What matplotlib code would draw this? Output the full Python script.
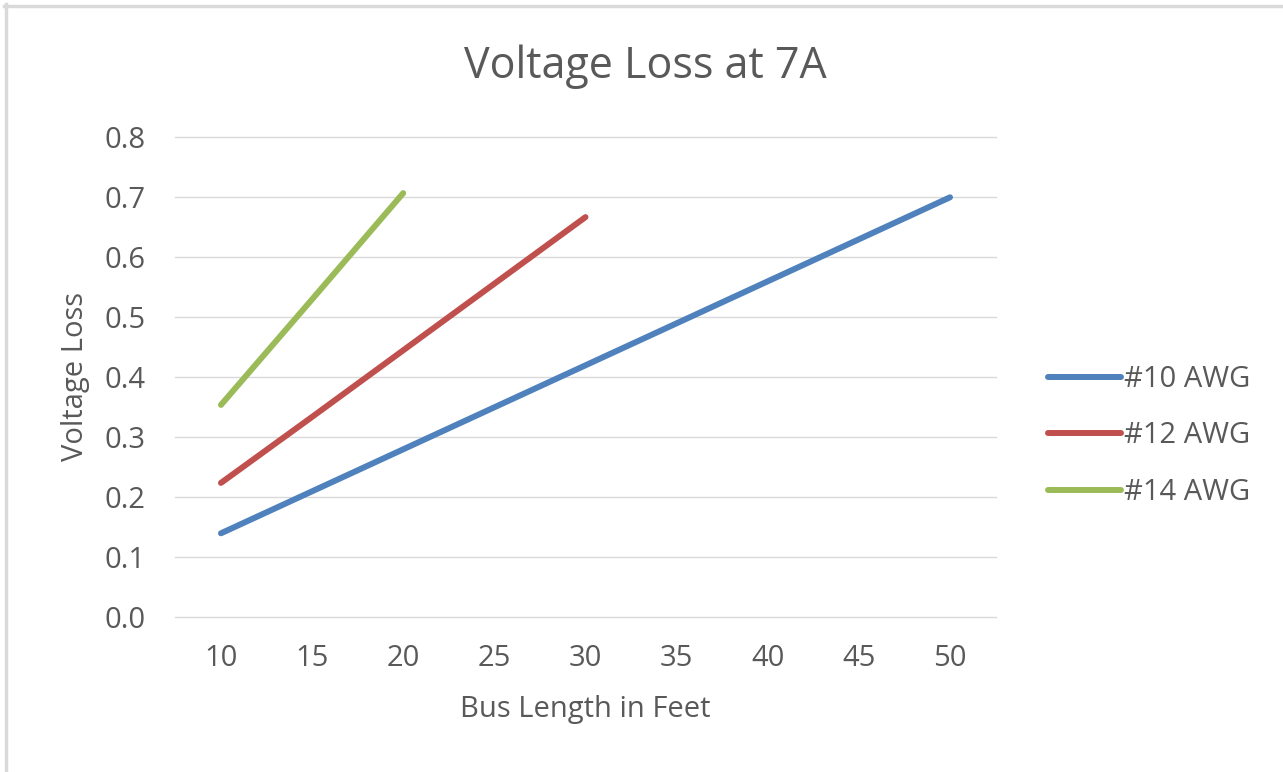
import matplotlib
matplotlib.use("Agg")
import matplotlib.pyplot as plt
from matplotlib.lines import Line2D

# ---- data ----
bus_length = [10, 15, 20, 25, 30, 35, 40, 45, 50]
awg10 = [0.14, 0.21, 0.28, 0.35, 0.42, 0.49, 0.56, 0.63, 0.70]
awg12_len = [10, 15, 20, 25, 30]
awg12 = [0.224, 0.334, 0.445, 0.556, 0.667]
awg14_len = [10, 15, 20]
awg14 = [0.354, 0.530, 0.707]
series_names = ["#10 AWG", "#12 AWG", "#14 AWG"]
y_ticks = [0.0, 0.1, 0.2, 0.3, 0.4, 0.5, 0.6, 0.7, 0.8]
title = "Voltage Loss at 7A"
x_title = "Bus Length in Feet"
y_title = "Voltage Loss"

plt.rcParams['font.family'] = ['Open Sans', 'DejaVu Sans']
TXT = '#595959'
GRID = '#D9D9D9'
colors = ['#4F81BD', '#C0504D', '#9BBB59']
W, H = 1283, 772
fig = plt.figure(figsize=(W / 100, H / 100), dpi=100)
fig.patch.set_facecolor('white')

ax_l, ax_r = 175.4 / W, 995.6 / W
ax_b, ax_t = 1 - 617.3 / H, 1 - 137.3 / H
ax = fig.add_axes([ax_l, ax_b, ax_r - ax_l, ax_t - ax_b])

lw = 4.3
ax.plot(bus_length, awg10, color=colors[0], lw=lw, solid_capstyle='round', label=series_names[0], zorder=3)
ax.plot(awg12_len, awg12, color=colors[1], lw=lw, solid_capstyle='round', label=series_names[1], zorder=3)
ax.plot(awg14_len, awg14, color=colors[2], lw=lw, solid_capstyle='round', label=series_names[2], zorder=3)

ax.set_xlim(7.5, 52.5)
ax.set_ylim(0, 0.8)
ax.set_xticks(bus_length)
ax.set_xticklabels([str(v) for v in bus_length])
ax.set_yticks(y_ticks)
ax.set_yticklabels([f"{v:.1f}" for v in y_ticks])
ax.grid(axis='y', color=GRID, lw=1.0)
for gl in ax.get_ygridlines():
    gl.set_clip_on(False)
ax.set_axisbelow(True)
for s in ax.spines.values():
    s.set_visible(False)
fs = 21
ax.tick_params(axis='both', length=0, labelsize=fs, colors=TXT)
ax.tick_params(axis='y', pad=21.5)
ax.tick_params(axis='x', pad=19)

fig.text(645 / W, 1 - 78 / H, title, ha='center', va='baseline', fontsize=31, color=TXT)
fig.text(585.5 / W, 1 - 717.3 / H, x_title, ha='center', va='baseline', fontsize=fs, color=TXT)
fig.text(76 / W, 1 - 377 / H, y_title, ha='center', va='center', rotation=90, fontsize=fs, color=TXT)

leg = fig.legend(loc='center left', bbox_to_anchor=(1048 / W, 1 - 436 / H), frameon=False,
                 fontsize=fs, handlelength=2.5, handletextpad=0.12, labelspacing=0.95,
                 borderpad=0, borderaxespad=0)
for t in leg.get_texts():
    t.set_color(TXT)

# chart-area frame (top and left edges)
fig.add_artist(Line2D([4 / W, 1], [1 - 5.5 / H, 1 - 5.5 / H], color=GRID, lw=2.5, transform=fig.transFigure))
fig.add_artist(Line2D([5.5 / W, 5.5 / W], [0, 1 - 4 / H], color=GRID, lw=2.5, transform=fig.transFigure))

fig.savefig('out.png', dpi=100)
